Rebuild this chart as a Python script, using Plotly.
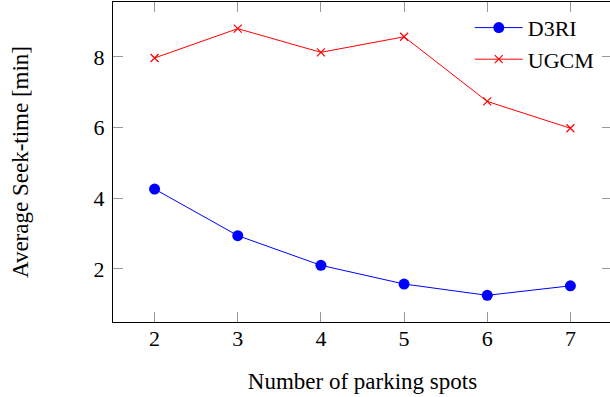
import plotly.graph_objects as go

spots = [2, 3, 4, 5, 6, 7]
d3ri = [4.26, 2.94, 2.10, 1.57, 1.25, 1.52]
ugcm = [7.97, 8.80, 8.13, 8.57, 6.74, 5.98]
x_ticks = [2, 3, 4, 5, 6, 7]
y_ticks = [2, 4, 6, 8]

FONT = "Liberation Serif"
FS = 22
FS_TITLE = 23

fig = go.Figure()
fig.add_trace(go.Scatter(
    x=spots, y=d3ri, name="D3RI", mode="lines+markers",
    line=dict(color="#0000ff", width=1),
    marker=dict(symbol="circle", size=11, color="#0000ff"),
))
fig.add_trace(go.Scatter(
    x=spots, y=ugcm, name="UGCM", mode="lines+markers",
    line=dict(color="#ff0000", width=1),
    marker=dict(symbol="x-thin", size=8, color="#ff0000",
                line=dict(color="#ff0000", width=1.2)),
))

axis_common = dict(
    showline=True, linecolor="black", linewidth=1.2, mirror="allticks",
    ticks="inside", ticklen=10, tickcolor="#999999", tickwidth=1,
    showgrid=False, zeroline=False,
    tickfont=dict(family=FONT, size=FS, color="black"),
)

fig.update_layout(
    width=612, height=397,
    margin=dict(l=113, r=0, t=2, b=75),
    paper_bgcolor="white", plot_bgcolor="white",
    font=dict(family=FONT, size=FS, color="black"),
    xaxis=dict(range=[1.5, 7.5], tickvals=x_ticks, ticklabelstandoff=-4,
               title=dict(text="Number of parking spots", standoff=23,
                          font=dict(family=FONT, size=FS_TITLE)),
               **axis_common),
    yaxis=dict(range=[0.495, 9.555], tickvals=y_ticks, ticklabelstandoff=3,
               title=dict(text="Average Seek-time [min]", standoff=58,
                          font=dict(family=FONT, size=FS_TITLE)),
               **axis_common),
    legend=dict(x=0.715, y=0.985, xanchor="left", yanchor="top",
                itemwidth=48,
                bgcolor="rgba(0,0,0,0)", borderwidth=0,
                font=dict(family=FONT, size=FS)),
    showlegend=True,
)

fig.write_html(
    "out.html",
    config={"displayModeBar": False},
    post_script="document.body.style.margin='0';document.body.style.overflow='hidden';",
)
